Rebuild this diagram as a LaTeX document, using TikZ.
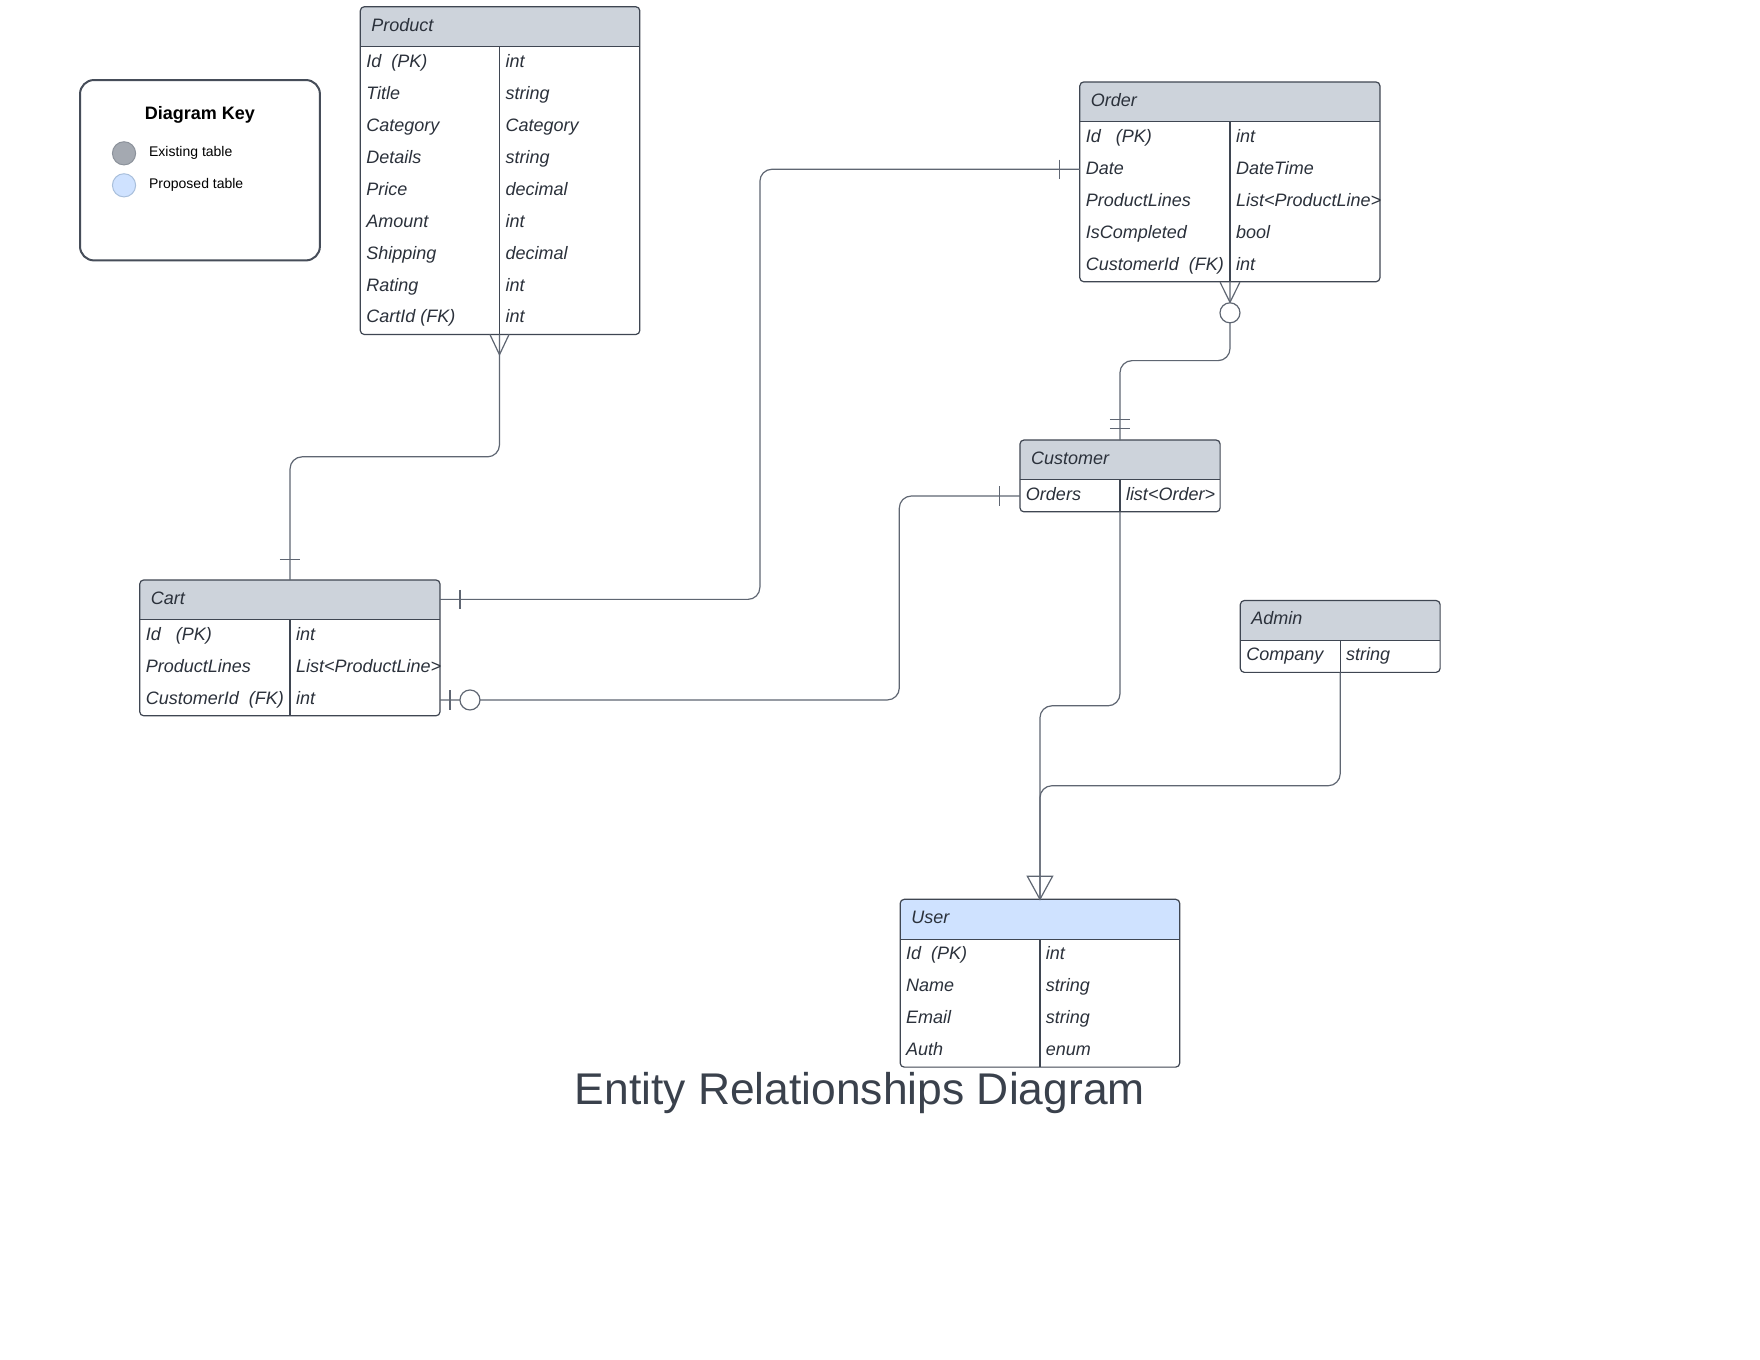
\documentclass[tikz,border=0pt]{standalone}
\usepackage{fontspec}
\setmainfont{Liberation Sans}
\usetikzlibrary{calc}
\definecolor{hdrgray}{HTML}{CDD3DB}
\definecolor{hdrblue}{HTML}{CFE2FF}
\definecolor{tblline}{HTML}{3F4652}
\definecolor{connline}{HTML}{5F6672}
\definecolor{txt}{HTML}{2B313B}
\definecolor{titlec}{HTML}{3A414C}
\definecolor{keygray}{HTML}{A4A9B1}
\definecolor{keygrayedge}{HTML}{8C929B}
\definecolor{keyblue}{HTML}{CFE2FF}
\definecolor{keyblueedge}{HTML}{A9BFDB}
\definecolor{keyedge}{HTML}{464D59}

\tikzset{
  tbl/.style={draw=tblline, line width=0.6pt},
  conn/.style={draw=connline, line width=0.6pt, rounded corners=6pt},
  mk/.style={draw=connline, line width=0.6pt},
  hdr/.style={anchor=base west, inner sep=0pt, font=\fontsize{9}{11}\selectfont\itshape, text=txt},
  fld/.style={anchor=base west, inner sep=0pt, font=\fontsize{9}{11}\selectfont\itshape, text=txt},
  keytitle/.style={anchor=base, inner sep=0pt, font=\fontsize{9}{11}\selectfont\bfseries, text=black},
  keylabel/.style={anchor=base west, inner sep=0pt, font=\fontsize{7}{9}\selectfont, text=black},
  diagtitle/.style={anchor=base, inner sep=0pt, font=\fontsize{22.2}{26}\selectfont, text=titlec},
}

% #1 name, #2 L, #3 T, #4 R, #5 D, #6 rows, #7 fill
\newcommand{\ertable}[7]{%
  \pgfmathsetmacro{\erH}{#3+35.5}%
  \pgfmathsetmacro{\erB}{#3+35.5+28.5*#6}%
  \begin{scope}
    \clip[rounded corners=2pt] (#2,#3) rectangle (#4,\erB);
    \fill[#7] (#2,#3) rectangle (#4,\erH);
  \end{scope}
  \draw[tbl] (#2,\erH) -- (#4,\erH) (#5,\erH) -- (#5,\erB);
  \draw[tbl, rounded corners=2pt] (#2,#3) rectangle (#4,\erB);
  \coordinate (#1-top) at (#5,#3);
  \coordinate (#1-bot) at (#5,\erB);
}
% #1 name, #2 L, #3 T, #4 text
\newcommand{\ertitle}[4]{%
  \node[hdr] (#1-title) at ({#2+9.5},{#3+17.75+4}) {#4};
}
% #1 name, #2 idx, #3 L, #4 D, #5 T, #6 field, #7 type
\newcommand{\errow}[7]{%
  \node[fld] (#1-f#2) at ({#3+5},{#5+35.5+28.5*(#2-0.5)+4}) {#6};
  \node[fld] (#1-t#2) at ({#4+5},{#5+35.5+28.5*(#2-0.5)+4}) {#7};
}

\begin{document}
\begin{tikzpicture}[x=0.56125pt, y=-0.56125pt]
\useasboundingbox (0,0) rectangle (1568,1211.6);
\fill[white] (0,0) rectangle (1568,1211.6);

% ---------- Diagram key ----------
\draw[draw=keyedge, line width=1pt, rounded corners=7pt] (71.3,71.3) rectangle (285,232);
\node[keytitle] (keytitle) at (178,106.5) {Diagram Key};
\node[circle, draw=keygrayedge, fill=keygray, line width=0.5pt, minimum size=11.6pt, inner sep=0pt] (keyexist) at (110.5,136.6) {};
\node[circle, draw=keyblueedge, fill=keyblue, line width=0.5pt, minimum size=11.6pt, inner sep=0pt] (keyprop) at (110.5,165.1) {};
\node[keylabel] (keyexistlbl) at (132.5,139.5) {Existing table};
\node[keylabel] (keyproplbl) at (132.5,168.3) {Proposed table};

% ---------- Tables ----------
\ertable{product}{321}{6}{570}{445}{9}{hdrgray}
\ertitle{product}{321}{6}{Product}
\foreach \f/\t [count=\i] in {Id\ \ (PK)/int, Title/string, Category/Category, Details/string, Price/decimal, Amount/int, Shipping/decimal, Rating/int, CartId (FK)/int}
  {\errow{product}{\i}{321}{445}{6}{\f}{\t}}

\ertable{order}{962}{73}{1229.4}{1095.8}{5}{hdrgray}
\ertitle{order}{962}{73}{Order}
\foreach \f/\t [count=\i] in {Id\ \ \ (PK)/int, Date/DateTime, ProductLines/List<ProductLine>, IsCompleted/bool, CustomerId\ \ (FK)/int}
  {\errow{order}{\i}{962}{1095.8}{73}{\f}{\t}}

\ertable{customer}{908.7}{392}{1087}{997.8}{1}{hdrgray}
\ertitle{customer}{908.7}{392}{Customer}
\errow{customer}{1}{908.7}{997.8}{392}{Orders}{list<Order>}

\ertable{cart}{124.5}{516.7}{392}{258.4}{3}{hdrgray}
\ertitle{cart}{124.5}{516.7}{Cart}
\foreach \f/\t [count=\i] in {Id\ \ \ (PK)/int, ProductLines/List<ProductLine>, CustomerId\ \ (FK)/int}
  {\errow{cart}{\i}{124.5}{258.4}{516.7}{\f}{\t}}

\ertable{admin}{1105}{535}{1283}{1194}{1}{hdrgray}
\ertitle{admin}{1105}{535}{Admin}
\errow{admin}{1}{1105}{1194}{535}{Company}{string}

\ertable{user}{802}{801.2}{1051}{926.5}{4}{hdrblue}
\ertitle{user}{802}{801.2}{User}
\foreach \f/\t [count=\i] in {Id\ \ (PK)/int, Name/string, Email/string, Auth/enum}
  {\errow{user}{\i}{802}{926.5}{801.2}{\f}{\t}}

% ---------- Connector anchor points ----------
\coordinate (order-date) at (962,150.8);
\coordinate (cart-hdr) at (392,534);
\coordinate (cart-cust) at (392,623.6);
\coordinate (customer-orders) at (908.7,441.9);
\coordinate (bend-pc) at (0,407);
\coordinate (bend-oc) at (677,0);
\coordinate (bend-ocu) at (0,321.3);
\coordinate (bend-cc) at (801.2,0);
\coordinate (bend-cu) at (0,628.8);
\coordinate (bend-au) at (0,700);

% Product -> Cart
\draw[conn] (product-bot) -- (product-bot |- bend-pc) -- (cart-top |- bend-pc) -- (cart-top);
\draw[mk] ($(product-bot)+(-8.5,0)$) -- ($(product-bot)+(0,18)$) -- ($(product-bot)+(8.5,0)$);
\draw[mk] ($(cart-top)+(-9,-18.5)$) -- ($(cart-top)+(9,-18.5)$);

% Order -> Cart
\draw[conn] (order-date) -- (order-date -| bend-oc) -- (cart-hdr -| bend-oc) -- (cart-hdr);
\draw[mk] ($(order-date)+(-18.3,-8.5)$) -- ($(order-date)+(-18.3,8.8)$);
\draw[mk] ($(cart-hdr)+(17.8,-8.5)$) -- ($(cart-hdr)+(17.8,8.5)$);

% Order -> Customer
\draw[conn] (order-bot) -- (order-bot |- bend-ocu) -- (customer-top |- bend-ocu) -- (customer-top);
\draw[mk] ($(order-bot)+(-8.8,0.5)$) -- ($(order-bot)+(0,18.3)$) -- ($(order-bot)+(8.8,0.5)$);
\draw[mk, fill=white] ($(order-bot)+(0,27.7)$) circle[radius=5pt];
\draw[mk] ($(customer-top)+(-9,-18.4)$) -- ($(customer-top)+(9,-18.4)$);
\draw[mk] ($(customer-top)+(-9,-10.1)$) -- ($(customer-top)+(9,-10.1)$);

% Customer -> Cart
\draw[conn] (customer-orders) -- (customer-orders -| bend-cc) -- (cart-cust -| bend-cc) -- (cart-cust);
\draw[mk] ($(customer-orders)+(-18.4,-8.6)$) -- ($(customer-orders)+(-18.4,8.6)$);
\draw[mk] ($(cart-cust)+(8.9,-8.5)$) -- ($(cart-cust)+(8.9,8.5)$);
\draw[mk, fill=white] ($(cart-cust)+(26.7,0)$) circle[radius=5pt];

% Customer -> User
\draw[conn] (customer-bot) -- (customer-bot |- bend-cu) -- (user-top |- bend-cu) -- (user-top);
% Admin -> User
\draw[conn] (admin-bot) -- (admin-bot |- bend-au) -- (user-top |- bend-au) -- (user-top);
\draw[mk, line join=miter] ($(user-top)+(-11.2,-20.5)$) -- (user-top) -- ($(user-top)+(11.2,-20.5)$) -- cycle;

% ---------- Title ----------
\node[diagtitle] (diagtitle) at (766,984) {Entity Relationships Diagram};
\end{tikzpicture}
\end{document}
